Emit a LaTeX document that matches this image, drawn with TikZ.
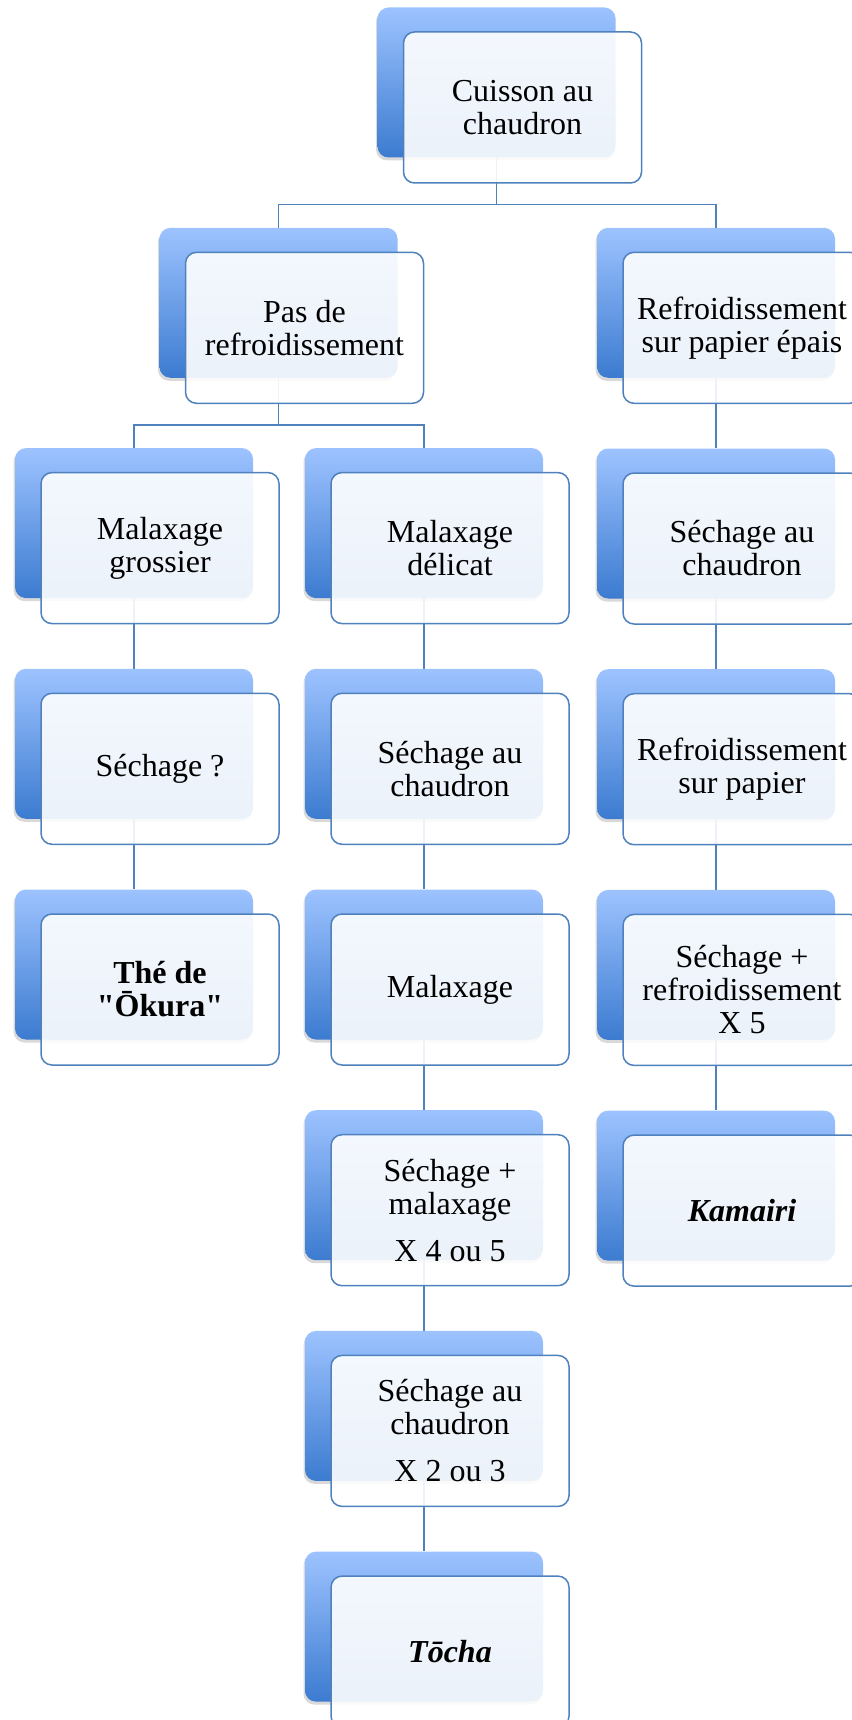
\documentclass[tikz,border=0pt]{standalone}
\usepackage{fontspec}
\setmainfont{Liberation Serif}[Ligatures=TeXOff]
\usetikzlibrary{positioning, shadows, backgrounds}

\definecolor{bleuclair}{HTML}{9DC3FF}
\definecolor{bleufonce}{HTML}{3C7BD0}
\definecolor{bordbleu}{HTML}{4F81BD}

\begin{document}
\begin{tikzpicture}[
        x=1pt, y=-1pt,
        node distance=70.3pt,
        fond/.style={rectangle, rounded corners=11pt, draw=none,
                     minimum width=238pt, minimum height=150pt, inner sep=0pt,
                     top color=bleuclair, bottom color=bleufonce,
                     drop shadow={shadow xshift=-1.5pt, shadow yshift=-3pt, opacity=0.3}},
        etiquette/.style={rectangle, rounded corners=11pt, draw=bordbleu, line width=1.5pt,
                     minimum width=238pt, minimum height=151pt, inner sep=2pt,
                     fill=white, fill opacity=0.9, text opacity=1,
                     align=center, font=\fontsize{32}{33}\selectfont},
        lien/.style={draw=bordbleu, line width=1.6pt},
    ]
    \useasboundingbox (0,0) rectangle (851,1720);

    % Racine
    \node[fond] (cuisson) at (496.5,82.5) {};
    \node[etiquette] (cuisson-t) at ([shift={(26,25)}]cuisson) {Cuisson au\\chaudron};

    % Deuxieme niveau
    \node[fond] (pasrefr) at (278.5,302.8) {};
    \node[etiquette] (pasrefr-t) at ([shift={(26,25)}]pasrefr) {Pas de\\refroidissement};
    \node[fond] (papepais) at (716,302.8) {};
    \node[etiquette] (papepais-t) at ([shift={(26,25)}]papepais) {Refroidissement\\sur papier épais};

    % Colonne gauche
    \node[fond] (grossier) at (134,523.1) {};
    \node[etiquette] (grossier-t) at ([shift={(26,25)}]grossier) {Malaxage\\grossier};
    \node[fond, below=of grossier] (sechq) {};
    \node[etiquette] (sechq-t) at ([shift={(26,25)}]sechq) {Séchage ?};
    \node[fond, below=of sechq] (okura) {};
    \node[etiquette, font=\fontsize{32}{33}\selectfont\bfseries] (okura-t)
        at ([shift={(26,25)}]okura) {Thé de\\"Ōkura"};

    % Colonne du milieu
    \node[fond] (delicat) at (424,523.1) {};
    \node[etiquette] (delicat-t) at ([shift={(26,25)}]delicat) {Malaxage\\délicat};
    \node[fond, below=of delicat] (sechb) {};
    \node[etiquette] (sechb-t) at ([shift={(26,25)}]sechb) {Séchage au\\chaudron};
    \node[fond, below=of sechb] (malax) {};
    \node[etiquette] (malax-t) at ([shift={(26,25)}]malax) {Malaxage};
    \node[fond, below=of malax] (sechmal) {};
    \node[etiquette] (sechmal-t) at ([shift={(26,25)}]sechmal) {Séchage +\\malaxage\\[14pt]X 4 ou 5};
    \node[fond, below=of sechmal] (sechx) {};
    \node[etiquette] (sechx-t) at ([shift={(26,25)}]sechx) {Séchage au\\chaudron\\[14pt]X 2 ou 3};
    \node[fond, below=of sechx] (tocha) {};
    \node[etiquette, font=\fontsize{32}{33}\selectfont\bfseries\itshape] (tocha-t)
        at ([shift={(26,25)}]tocha) {Tōcha};

    % Colonne droite
    \node[fond, below=of papepais] (sechc) {};
    \node[etiquette] (sechc-t) at ([shift={(26,25)}]sechc) {Séchage au\\chaudron};
    \node[fond, below=of sechc] (refrp) {};
    \node[etiquette] (refrp-t) at ([shift={(26,25)}]refrp) {Refroidissement\\sur papier};
    \node[fond, below=of refrp] (sechrefr) {};
    \node[etiquette] (sechrefr-t) at ([shift={(26,25)}]sechrefr) {Séchage +\\refroidissement\\X 5};
    \node[fond, below=of sechrefr] (kamairi) {};
    \node[etiquette, font=\fontsize{32}{33}\selectfont\bfseries\itshape] (kamairi-t)
        at ([shift={(26,25)}]kamairi) {Kamairi};

    % Liaisons (sous les boites)
    \begin{scope}[on background layer]
        \draw[lien] (pasrefr.north) -- ++(0,-23) -| (cuisson.south);
        \draw[lien] (papepais.north) -- ++(0,-23) -| (cuisson.south);
        \draw[lien] (grossier.north) -- ++(0,-23) -| (pasrefr.south);
        \draw[lien] (delicat.north) -- ++(0,-23) -| (pasrefr.south);
        \draw[lien] (grossier) -- (sechq);
        \draw[lien] (sechq) -- (okura);
        \draw[lien] (delicat) -- (sechb);
        \draw[lien] (sechb) -- (malax);
        \draw[lien] (malax) -- (sechmal);
        \draw[lien] (sechmal) -- (sechx);
        \draw[lien] (sechx) -- (tocha);
        \draw[lien] (papepais) -- (sechc);
        \draw[lien] (sechc) -- (refrp);
        \draw[lien] (refrp) -- (sechrefr);
        \draw[lien] (sechrefr) -- (kamairi);
    \end{scope}
\end{tikzpicture}
\end{document}
